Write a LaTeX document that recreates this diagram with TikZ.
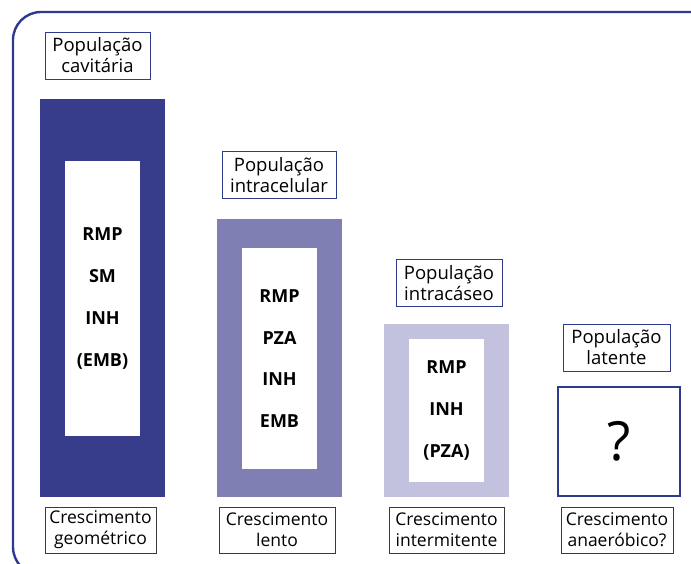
\documentclass[tikz,border=0pt]{standalone}
\usepackage{fontspec}
\setmainfont{Open Sans}
\definecolor{frameBlue}{HTML}{2E3A8C}
\definecolor{barDark}{HTML}{373D8A}
\definecolor{barMid}{HTML}{7F7FB4}
\definecolor{barLight}{HTML}{C2C2DF}
\definecolor{edgeGray}{HTML}{3A3A3A}
\usetikzlibrary{positioning}

\begin{document}
\begin{tikzpicture}[
    x=1pt, y=-1pt,
    bar/.style={rectangle, fill=#1, inner sep=0pt, minimum width=125pt},
    core/.style={rectangle, fill=white, inner sep=0pt, minimum width=75pt,
                 align=center, font=\fontsize{18}{41.7}\selectfont\bfseries},
    poplabel/.style={rectangle, draw=frameBlue, line width=0.8pt, fill=white,
                     align=center, inner xsep=3pt, inner ysep=0pt, minimum height=47pt,
                     minimum width=#1, font=\fontsize{18.5}{21}\selectfont},
    growlabel/.style={rectangle, draw=edgeGray, line width=0.8pt, fill=white,
                      align=center, inner xsep=3pt, inner ysep=0pt, minimum height=46pt,
                      minimum width=#1, font=\fontsize{17.5}{21}\selectfont}
  ]
    \useasboundingbox (0,0) rectangle (691,563);
    \begin{scope}
      \clip (0,0) rectangle (691,563);
      \draw[frameBlue, line width=2.4pt, rounded corners=28pt] (13,12) rectangle (740,575);
    \end{scope}

    % cavitaria
    \node[bar=barDark, minimum height=398pt] (b1) at (102.5,298) {};
    \node[core, minimum height=275pt] (c1) at (102.5,298.5) {RMP\\SM\\INH\\(EMB)};
    \node[poplabel=105pt] (p1) at (97.5,55.5) {População\\cavitária};
    \node[growlabel=111pt] (g1) at (100.5,530) {Crescimento\\geométrico};

    % intracelular
    \node[bar=barMid, minimum height=278pt] (b2) at (279.5,358) {};
    \node[core, minimum height=221pt] (c2) at (279.5,358.5) {RMP\\PZA\\INH\\EMB};
    \node[poplabel=114pt] (p2) at (279,175) {População\\intracelular};
    \node[growlabel=116pt] (g2) at (277,530) {Crescimento\\lento};

    % intracaseo
    \node[bar=barLight, minimum height=173pt] (b3) at (446.5,410.5) {};
    \node[core, minimum height=143pt] (c3) at (446.5,410.5) {RMP\\INH\\(PZA)};
    \node[poplabel=106pt] (p3) at (449,283) {População\\intracáseo};
    \node[growlabel=115pt] (g3) at (446.5,530) {Crescimento\\intermitente};

    % latente
    \node[rectangle, draw=frameBlue, line width=2pt, minimum width=122pt, minimum height=109pt,
          font=\fontsize{54}{54}\selectfont] (b4) at (619,441.5) {?};
    \node[poplabel=107pt] (p4) at (616.5,347.5) {População\\latente};
    \node[growlabel=112pt] (g4) at (617,530) {Crescimento\\anaeróbico?};
  \end{tikzpicture}
\end{document}
